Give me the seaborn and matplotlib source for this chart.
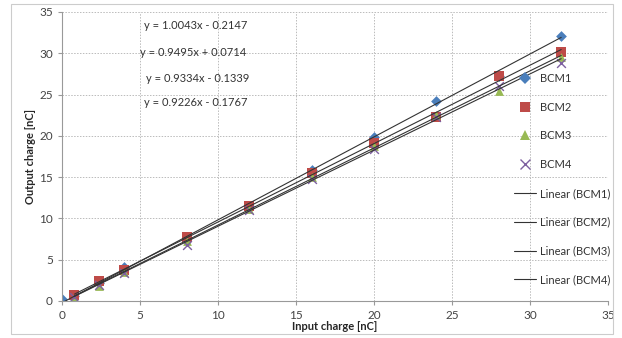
import matplotlib.pyplot as plt
import pandas as pd
import numpy as np
import seaborn as sns
from matplotlib.lines import Line2D
from matplotlib.patches import Rectangle

x_bcm1 = [0, 0.8, 2.4, 4, 8, 12, 16, 20, 24, 28, 32]
y_bcm1 = [0.2, 0.6, 2.2, 4.1, 7.6, 11.5, 15.9, 19.9, 24.2, 27.2, 32.1]
x_other = [0.8, 2.4, 4, 8, 12, 16, 20, 24, 28, 32]
y_bcm2 = [0.7, 2.4, 3.7, 7.7, 11.5, 15.5, 19.1, 22.3, 27.2, 30.1]
y_bcm3 = [0.3, 1.8, 3.5, 7.3, 11.1, 15.0, 18.8, 22.5, 25.4, 29.5]
y_bcm4 = [0.5, 1.9, 3.4, 6.8, 11.0, 14.8, 18.4, 22.3, 26.0, 28.8]

names = ["BCM1", "BCM2", "BCM3", "BCM4"]
slopes = [1.0043, 0.9495, 0.9334, 0.9226]
intercepts = [-0.2147, 0.0714, -0.1339, -0.1767]
eq_labels = ["y = 1.0043x - 0.2147", "y = 0.9495x + 0.0714",
             "y = 0.9334x - 0.1339", "y = 0.9226x - 0.1767"]

colors = {"BCM1": "#4a7ebb", "BCM2": "#be4b48", "BCM3": "#98b954", "BCM4": "#7d60a0"}
markers = {"BCM1": "D", "BCM2": "s", "BCM3": "^", "BCM4": "x"}
sizes = {"BCM1": 30, "BCM2": 55, "BCM3": 40, "BCM4": 40}

df = pd.concat([
    pd.DataFrame({"x": x_bcm1, "y": y_bcm1, "BCM": "BCM1"}),
    pd.DataFrame({"x": x_other, "y": y_bcm2, "BCM": "BCM2"}),
    pd.DataFrame({"x": x_other, "y": y_bcm3, "BCM": "BCM3"}),
    pd.DataFrame({"x": x_other, "y": y_bcm4, "BCM": "BCM4"}),
])

sns.set_style("white")
plt.rcParams["font.family"] = ["Lato", "DejaVu Sans"]

fig = plt.figure(figsize=(6.22, 3.38), dpi=100)
ax = fig.add_axes([0.0997, 0.1095, 0.8778, 0.855])

# trend lines from the fitted coefficients
for name, m, b in zip(names, slopes, intercepts):
    sub = df[df["BCM"] == name]
    xs = np.array([sub["x"].min(), sub["x"].max()])
    fit = pd.DataFrame({"x": xs, "y": m * xs + b})
    sns.lineplot(data=fit, x="x", y="y", color="#333333", lw=0.8, ax=ax, zorder=3)

for name in names:
    sub = df[df["BCM"] == name]
    if markers[name] == "x":
        sns.scatterplot(data=sub, x="x", y="y", color=colors[name], marker="x",
                        s=sizes[name], linewidth=1.0, ax=ax, zorder=2)
    else:
        sns.scatterplot(data=sub, x="x", y="y", color=colors[name], marker=markers[name],
                        s=sizes[name], linewidth=0, ax=ax, zorder=2)

ax.set_xlim(0, 35)
ax.set_ylim(0, 35)
ax.set_xticks(range(0, 36, 5))
ax.set_yticks(range(0, 36, 5))
ax.grid(True, color="#bbbbbb", linestyle=(0, (1.5, 1.5)), lw=0.7)
ax.tick_params(labelsize=8.5, colors="#444444", length=3, direction="out")
ax.tick_params(axis="both", which="both", bottom=True, left=True, color="#999999")
for s in ["top", "right"]:
    ax.spines[s].set_visible(False)
for s in ["left", "bottom"]:
    ax.spines[s].set_color("#999999")
    ax.spines[s].set_linewidth(0.8)

ax.set_xlabel("Input charge [nC]", fontsize=8, fontweight="bold", labelpad=0)
ax.set_ylabel("Output charge [nC]", fontsize=8, fontweight="bold", labelpad=2)

eq_pos = [(8.6, 33.4), (8.4, 30.1), (8.7, 26.9), (8.6, 24.0)]
for lab, (px, py) in zip(eq_labels, eq_pos):
    ax.text(px, py, lab, fontsize=8, ha="center", va="center", color="#333333")

handles = []
for name in names:
    if markers[name] == "x":
        h = Line2D([], [], marker="x", color=colors[name], ls="none", markersize=7, mew=1.0)
    else:
        h = Line2D([], [], marker=markers[name], color=colors[name], ls="none",
                   markersize={"D": 6, "s": 7.5, "^": 7}[markers[name]], mew=0)
    handles.append(h)
labels = list(names)
for name in names:
    handles.append(Line2D([], [], color="#333333", lw=0.8))
    labels.append(f"Linear ({name})")

leg = ax.legend(handles, labels, loc="upper left", bbox_to_anchor=(0.82, 0.805),
                frameon=False, fontsize=8, labelspacing=1.6, handlelength=2.0,
                handletextpad=0.3, borderaxespad=0)
for t in leg.get_texts():
    t.set_color("#333333")

fig.patches.append(Rectangle((0.018, 0.012), 0.967, 0.975, transform=fig.transFigure,
                             fill=False, edgecolor="#cccccc", lw=0.8))

fig.savefig("out.png", dpi=100)
